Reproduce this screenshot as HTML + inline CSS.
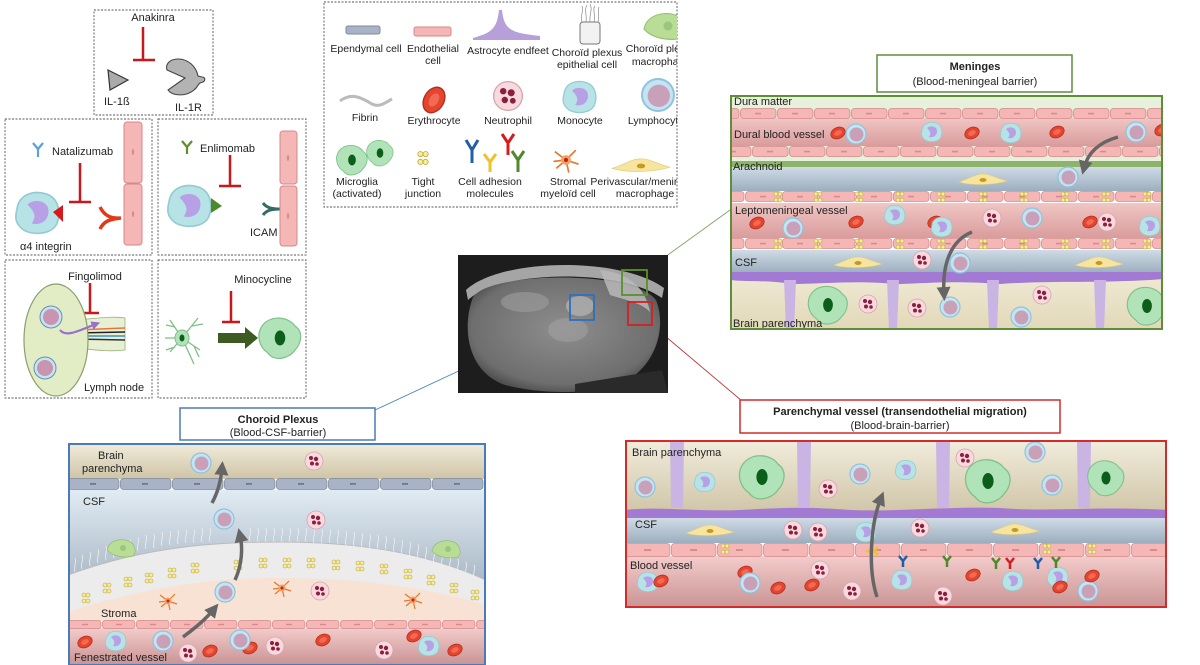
<!DOCTYPE html>
<html><head><meta charset="utf-8"><style>
html,body{margin:0;padding:0;background:#fff;}
svg{display:block;}
text{font-family:"Liberation Sans",sans-serif;font-size:11px;fill:#222;}
.c{text-anchor:middle;}
.b{font-weight:bold;}
.lg text{font-size:10.5px;}
</style></head><body>
<svg width="1200" height="665" viewBox="0 0 1200 665" xmlns="http://www.w3.org/2000/svg">
<defs>
<g id="ec"><rect x="0.5" y="0.5" width="35.5" height="10" rx="3" fill="#f4b7b5" stroke="#d58a8a" stroke-width="0.8"/><rect x="15" y="4.8" width="6" height="1.6" fill="#d98b8b"/></g>
<pattern id="endoA" width="37" height="11" patternUnits="userSpaceOnUse" x="0" y="108"><use href="#ec"/></pattern>
<pattern id="endoB" width="37" height="11" patternUnits="userSpaceOnUse" x="12" y="146"><use href="#ec"/></pattern>
<pattern id="endoC" width="37" height="12" patternUnits="userSpaceOnUse" x="5" y="191"><use href="#ec"/></pattern>
<pattern id="endoD" width="37" height="12" patternUnits="userSpaceOnUse" x="5" y="238"><use href="#ec"/></pattern>
<pattern id="endoE" width="34" height="9" patternUnits="userSpaceOnUse" x="68" y="620"><rect x="0.5" y="0.5" width="32.5" height="8" rx="2.5" fill="#f4b7b5" stroke="#d58a8a" stroke-width="0.8"/><rect x="14" y="3.8" width="6" height="1.4" fill="#d98b8b"/></pattern>
<pattern id="endoL" width="46" height="14" patternUnits="userSpaceOnUse" x="625" y="543">
<rect x="0.5" y="0.5" width="44.5" height="13" rx="3" fill="#f4b7b5" stroke="#d58a8a" stroke-width="0.8"/>
<rect x="19" y="6" width="7" height="2" fill="#d98b8b"/>
</pattern>
<pattern id="epend" width="52" height="12" patternUnits="userSpaceOnUse" x="68" y="478">
<rect x="0.5" y="0.5" width="50.5" height="11" rx="3" fill="#a8b4c5" stroke="#7f8a9c" stroke-width="0.8"/>
<rect x="22" y="5" width="6" height="1.8" fill="#6e7a8c"/>
</pattern>
<linearGradient id="vessel" x1="0" y1="0" x2="0" y2="1"><stop offset="0" stop-color="#f0c6c4"/><stop offset="1" stop-color="#d99c9c"/></linearGradient>
<linearGradient id="vessel2" x1="0" y1="0" x2="0" y2="1"><stop offset="0" stop-color="#f3cccb"/><stop offset="1" stop-color="#c99393"/></linearGradient>
<linearGradient id="csf" x1="0" y1="0" x2="0" y2="1"><stop offset="0" stop-color="#cfdbe6"/><stop offset="1" stop-color="#9caebe"/></linearGradient>
<linearGradient id="csf2" x1="0" y1="0" x2="0" y2="1"><stop offset="0" stop-color="#e1ebf3"/><stop offset="1" stop-color="#93a4b4"/></linearGradient>
<linearGradient id="par" x1="0" y1="0" x2="0" y2="1"><stop offset="0" stop-color="#f1ecdc"/><stop offset="1" stop-color="#cfc4a6"/></linearGradient>
<linearGradient id="par2" x1="0" y1="0" x2="0" y2="1"><stop offset="0" stop-color="#efe9d3"/><stop offset="1" stop-color="#e2d8b8"/></linearGradient>
<radialGradient id="brain" cx="0.5" cy="0.45" r="0.6"><stop offset="0" stop-color="#8e8e8e"/><stop offset="0.8" stop-color="#6e6e6e"/><stop offset="1" stop-color="#454545"/></radialGradient>
<marker id="ah" markerWidth="4" markerHeight="4" refX="2" refY="2" orient="auto"><path d="M0,0 L4,2 L0,4 z" fill="#666"/></marker>
<marker id="ahp" markerWidth="4" markerHeight="4" refX="2" refY="2" orient="auto"><path d="M0,0 L4,2 L0,4 z" fill="#9b6fd0"/></marker>
<g id="rbc"><ellipse rx="7.5" ry="5.5" fill="#e5452e" stroke="#b3301f" stroke-width="0.8" transform="rotate(-25)"/><ellipse rx="4" ry="2.5" fill="#f26a53" transform="rotate(-25)"/></g>
<g id="lym"><circle r="10" fill="#c4e4f3" stroke="#8fc2dd" stroke-width="1.2"/><circle cx="0.5" cy="0.5" r="7" fill="#c8a1b9"/></g>
<g id="neu"><circle r="9" fill="#f8d9de" stroke="#d6a3ad" stroke-width="0.8"/><circle cx="-3" cy="-3" r="2" fill="#8a1f3f"/><circle cx="2" cy="-2" r="2.2" fill="#8a1f3f"/><circle cx="-2" cy="2.5" r="2" fill="#8a1f3f"/><circle cx="3" cy="3" r="1.8" fill="#8a1f3f"/></g>
<g id="mon"><path d="M-10,-2 C-9,-9 -2,-11 4,-9 C10,-7 11,0 9,5 C7,10 -2,11 -7,8 C-11,5 -11,2 -10,-2z" fill="#b7e3e7" stroke="#93cbd3" stroke-width="0.8"/><path d="M-5,-4 C-2,-7 5,-6 5,-1 C5,4 1,6 -3,5 C-1,2 -1,0 -5,-4z" fill="#b7a0e6"/></g>
<g id="mac"><path d="M-24,2 C-12,-2 -8,-6 0,-6 C8,-6 12,-2 24,1 C12,5 -12,6 -24,2z" fill="#f7e59f" stroke="#e3cd7a" stroke-width="0.6"/><ellipse rx="3.5" ry="2" fill="#c69a1f"/></g>
<g id="mic"><path d="M-12,-8 C-6,-16 6,-14 10,-8 C16,-4 14,4 10,8 C6,14 -4,16 -8,10 C-14,6 -16,-2 -12,-8z" fill="#b1e3b9" stroke="#7fbf89" stroke-width="0.8"/><ellipse rx="3.5" ry="5" fill="#0b5f1a"/></g>
<g id="tj"><circle cx="-2" cy="-3" r="2" fill="#f6ec9a" stroke="#bfa73a" stroke-width="0.6"/><circle cx="2" cy="-3" r="2" fill="#f6ec9a" stroke="#bfa73a" stroke-width="0.6"/><circle cx="-2" cy="3" r="2" fill="#f6ec9a" stroke="#bfa73a" stroke-width="0.6"/><circle cx="2" cy="3" r="2" fill="#f6ec9a" stroke="#bfa73a" stroke-width="0.6"/></g>
<g id="str"><g stroke="#e8772a" stroke-width="1.2" fill="none"><path d="M0,0 L-8,-6 M0,0 L7,-7 M0,0 L9,3 M0,0 L-7,6 M0,0 L2,9 M0,0 L-9,1"/></g><circle r="3.5" fill="#f3a060"/><circle r="1.5" fill="#c02020"/></g>
<g id="cpm"><path d="M-14,2 C-12,-8 0,-10 8,-7 C14,-4 16,4 12,8 C4,10 -8,9 -14,2z" fill="#b9dc96" stroke="#93bf6f" stroke-width="0.7"/><circle cx="2" cy="0" r="3" fill="#9cc67b"/></g>
</defs>

<!-- ===== Top-left drug boxes ===== -->
<g fill="none" stroke="#555" stroke-width="0.9" stroke-dasharray="2,1.5">
<rect x="94" y="10" width="119" height="105"/>
<rect x="5" y="119" width="147" height="136"/>
<rect x="158" y="119" width="148" height="136"/>
<rect x="5" y="260" width="147" height="138"/>
<rect x="158" y="260" width="148" height="138"/>
</g>
<text x="153" y="21" class="c">Anakinra</text>
<g stroke="#c8181c" stroke-width="2.5"><line x1="143" y1="27" x2="143" y2="60"/><line x1="133" y1="60" x2="155" y2="60"/></g>
<path d="M108,70 L128,80 L110,90 z" fill="#aaa" stroke="#333" stroke-width="1.2"/>
<text x="104" y="105">IL-1ß</text>
<path d="M185,78 L168,90 C172,96 186,97 194,90 C198,87 198,84 200,83 L203,82 C206,80 205,77 202,77 L198,76 C196,66 188,59 178,59 C170,59 165,64 167,70 z" fill="#b3b3b3" stroke="#444" stroke-width="1.1"/>
<text x="175" y="111">IL-1R</text>

<g stroke="#5aa0db" stroke-width="2.2" fill="none"><path d="M33,143 L38,149 L43,143 M38,149 L38,157"/></g>
<text x="52" y="155">Natalizumab</text>
<g stroke="#c8181c" stroke-width="2.5"><line x1="80" y1="163" x2="80" y2="202"/><line x1="69" y1="202" x2="91" y2="202"/></g>
<g transform="translate(38,213) scale(2.1)"><use href="#mon"/></g>
<path d="M53,212 L63,205 L63,222 z" fill="#d7191c"/>
<path d="M100,207 C104,215 110,219 121,218 M100,229 C104,221 110,219 121,218" stroke="#e23a16" stroke-width="3.5" fill="none"/>
<rect x="124" y="122" width="18" height="61" rx="3" fill="#f4b7b5" stroke="#d58a8a"/><ellipse cx="133" cy="152" rx="1.2" ry="3" fill="#d98b8b"/>
<rect x="124" y="184" width="18" height="61" rx="3" fill="#f4b7b5" stroke="#d58a8a"/><ellipse cx="133" cy="214" rx="1.2" ry="3" fill="#d98b8b"/>
<text x="20" y="250">α4 integrin</text>

<g stroke="#5f8e2f" stroke-width="2.2" fill="none"><path d="M182,141 L187,147 L192,141 M187,147 L187,154"/></g>
<text x="200" y="152">Enlimomab</text>
<g stroke="#c8181c" stroke-width="2.5"><line x1="230" y1="155" x2="230" y2="186"/><line x1="219" y1="186" x2="241" y2="186"/></g>
<g transform="translate(190,206) scale(2.1)"><use href="#mon"/></g>
<path d="M211,198 L222,206 L211,213 z" fill="#4e8a2a"/>
<path d="M263,203 C266,207 270,209 280,209 M263,215 C266,211 270,209 280,209" stroke="#356b63" stroke-width="3" fill="none"/>
<rect x="280" y="131" width="17" height="53" rx="3" fill="#f4b7b5" stroke="#d58a8a"/><ellipse cx="288" cy="158" rx="1.2" ry="3" fill="#d98b8b"/>
<rect x="280" y="186" width="17" height="60" rx="3" fill="#f4b7b5" stroke="#d58a8a"/><ellipse cx="288" cy="216" rx="1.2" ry="3" fill="#d98b8b"/>
<text x="250" y="236">ICAM</text>

<text x="95" y="280" class="c">Fingolimod</text>
<g stroke="#c8181c" stroke-width="2.5"><line x1="90" y1="283" x2="90" y2="313"/><line x1="81" y1="313" x2="99" y2="313"/></g>
<path d="M76,320 C100,318 115,316 125,318 L125,350 C110,352 95,350 76,348 z" fill="#e7f0d2" stroke="#9cb07a" stroke-width="0.8"/>
<g stroke-width="1.5" fill="none"><path d="M75,330 L125,328" stroke="#e07a3a"/><path d="M75,333 L125,332" stroke="#222"/><path d="M75,336 L125,336" stroke="#3a8fd0"/><path d="M75,339 L125,340" stroke="#333"/></g>
<ellipse cx="56" cy="340" rx="32" ry="56" fill="#e2edc6" stroke="#8d9d6b" stroke-width="1.2"/>
<circle cx="51" cy="317" r="11" fill="#c4e4f3" stroke="#6b8fb0"/><circle cx="51" cy="317" r="8" fill="#c894b0"/>
<circle cx="45" cy="368" r="11" fill="#c4e4f3" stroke="#6b8fb0"/><circle cx="45" cy="368" r="8" fill="#c894b0"/>
<path d="M60,330 C66,338 80,330 96,324" stroke="#9b6fd0" stroke-width="2.2" fill="none" marker-end="url(#ahp)"/>
<text x="84" y="391">Lymph node</text>

<text x="263" y="283" class="c">Minocycline</text>
<g stroke="#c8181c" stroke-width="2.5"><line x1="231" y1="291" x2="231" y2="322"/><line x1="222" y1="322" x2="240" y2="322"/></g>
<g stroke="#7fbf89" stroke-width="1.3" fill="none"><path d="M182,338 L170,320 M175,327 L166,325 M182,338 L198,318 M192,326 L203,324 M182,338 L200,350 M194,346 L199,357 M182,338 L170,352 M175,347 L166,350 M182,338 L194,364 M182,338 L165,338"/></g>
<ellipse cx="182" cy="338" rx="7" ry="8" fill="#b1e3b9" stroke="#7fbf89"/><ellipse cx="182" cy="338" rx="2.5" ry="3.5" fill="#0b5f1a"/>
<path d="M218,333 L245,333 L245,327 L258,338 L245,349 L245,343 L218,343 z" fill="#3d5a22"/>
<g transform="translate(280,338) scale(1.5)"><use href="#mic"/></g>

<!-- ===== Legend ===== -->
<rect x="324" y="2" width="353" height="205" fill="none" stroke="#555" stroke-width="0.9" stroke-dasharray="2,1.5"/>
<clipPath id="lc"><rect x="324" y="2" width="353" height="205"/></clipPath>
<g clip-path="url(#lc)" class="lg">
<rect x="346" y="26" width="34" height="8" rx="2" fill="#a8b4c5" stroke="#7f8a9c"/>
<text x="366" y="52" class="c">Ependymal cell</text>
<rect x="414" y="27" width="37" height="9" rx="2" fill="#f4b7b5" stroke="#d58a8a"/>
<text x="433" y="52" class="c">Endothelial</text><text x="433" y="64" class="c">cell</text>
<path d="M473,38 C490,33 497,30 499,10 L502,10 C504,30 511,33 540,36 L540,40 L473,40 z" fill="#b79fd9"/>
<text x="508" y="54" class="c">Astrocyte endfeet</text>
<rect x="580" y="22" width="20" height="22" rx="3" fill="#f2f2f2" stroke="#777"/>
<g stroke="#888" stroke-width="0.7" fill="none"><path d="M582,22 C580,14 584,12 582,6 M586,22 C587,14 584,10 587,5 M590,22 C589,14 593,10 590,4 M594,22 C596,14 592,10 595,6 M598,22 C600,16 597,12 599,7"/></g>
<text x="587" y="56" class="c">Choroïd plexus</text><text x="587" y="68" class="c">epithelial cell</text>
<g transform="translate(665,26) scale(1.5)"><use href="#cpm"/></g>
<text x="661" y="52" class="c">Choroïd plexus</text><text x="661" y="65" class="c">macrophage</text>
<path d="M340,101 C352,92 362,98 372,104 C380,108 386,102 392,99" stroke="#bbb" stroke-width="3" fill="none"/>
<text x="365" y="121" class="c">Fibrin</text>
<g transform="translate(434,100) scale(1.8) rotate(-35)"><use href="#rbc"/></g>
<text x="434" y="124" class="c">Erythrocyte</text>
<g transform="translate(508,96) scale(1.6)"><use href="#neu"/></g>
<text x="508" y="124" class="c">Neutrophil</text>
<g transform="translate(580,97) scale(1.6)"><use href="#mon"/></g>
<text x="580" y="124" class="c">Monocyte</text>
<g transform="translate(658,95) scale(1.6)"><use href="#lym"/></g>
<text x="656" y="124" class="c">Lymphocyte</text>
<g transform="translate(352,160) scale(1.1)"><use href="#mic"/></g>
<g transform="translate(380,153) scale(0.95)"><use href="#mic"/></g>
<text x="357" y="185" class="c">Microglia</text><text x="357" y="197" class="c">(activated)</text>
<g transform="translate(423,158) scale(1.3)"><use href="#tj"/></g>
<text x="423" y="185" class="c">Tight</text><text x="423" y="197" class="c">junction</text>
<g stroke-width="3" fill="none">
<path d="M466,140 L472,150 L478,140 M472,150 L472,163" stroke="#1f5fa8"/>
<path d="M484,154 L490,162 L496,154 M490,162 L490,172" stroke="#f0c12a"/>
<path d="M502,134 L508,143 L514,134 M508,143 L508,155" stroke="#d11f1f"/>
<path d="M512,151 L518,160 L524,151 M518,160 L518,172" stroke="#4e8a2a"/>
</g>
<text x="490" y="185" class="c">Cell adhesion</text><text x="490" y="197" class="c">molecules</text>
<g transform="translate(566,160) scale(1.4)"><use href="#str"/></g>
<text x="568" y="185" class="c">Stromal</text><text x="568" y="197" class="c">myeloïd cell</text>
<g transform="translate(641,166) scale(1.2)"><use href="#mac"/></g>
<text x="645" y="185" class="c">Perivascular/meningeal</text><text x="645" y="197" class="c">macrophage</text>
</g>

<!-- ===== MRI ===== -->
<line x1="647" y1="270" x2="730" y2="210" stroke="#7ea36a" stroke-width="0.9"/>
<line x1="566" y1="321" x2="375" y2="410" stroke="#4a86c0" stroke-width="0.9"/>
<line x1="652" y1="325" x2="742" y2="401" stroke="#c03a3a" stroke-width="0.9"/>
<rect x="458" y="255" width="210" height="138" fill="#1d1d1d"/>
<path d="M466,290 C500,258 620,256 664,288 L662,298 C620,268 500,270 468,300 z" fill="#a5a5a5"/>
<path d="M472,300 C478,272 632,268 656,300 C668,330 654,374 612,387 C580,394 540,394 505,385 C468,372 462,330 472,300z" fill="url(#brain)"/>
<path d="M600,270 C625,272 645,285 650,312 C640,302 625,300 610,295z" fill="#b8b8b8" opacity="0.85"/>
<ellipse cx="580" cy="306" rx="14" ry="10" fill="#b0b0b0" opacity="0.8"/>
<ellipse cx="525" cy="302" rx="24" ry="10" fill="#999" opacity="0.7"/>
<ellipse cx="568" cy="330" rx="20" ry="12" fill="#a0a0a0" opacity="0.6"/>
<path d="M575,384 L662,370 L668,393 L575,393z" fill="#2a2a2a"/>
<rect x="622" y="270" width="25" height="25" fill="none" stroke="#5a8f2f" stroke-width="1.8"/>
<rect x="570" y="295" width="24" height="25" fill="none" stroke="#2f6fc0" stroke-width="1.8"/>
<rect x="628" y="302" width="24" height="23" fill="none" stroke="#d52020" stroke-width="1.8"/>

<!-- ===== Meninges ===== -->
<rect x="877" y="55" width="195" height="37" fill="#fff" stroke="#5f8e3a" stroke-width="1.5"/>
<text x="975" y="70" class="c b">Meninges</text>
<text x="975" y="85" class="c">(Blood-meningeal barrier)</text>
<clipPath id="mc"><rect x="731" y="96" width="431" height="233"/></clipPath>
<g clip-path="url(#mc)">
<rect x="730" y="95" width="433" height="70" fill="#e6f0da"/>
<rect x="730" y="118" width="433" height="28" fill="url(#vessel)"/>
<rect x="730" y="108" width="433" height="11" fill="url(#endoA)"/>
<rect x="730" y="146" width="433" height="11" fill="url(#endoB)"/>
<rect x="730" y="161" width="433" height="6" fill="#8db46a"/>
<rect x="730" y="167" width="433" height="24" fill="url(#csf)"/>
<rect x="730" y="203" width="433" height="35" fill="url(#vessel)"/>
<rect x="730" y="191" width="433" height="12" fill="url(#endoC)"/>
<rect x="730" y="238" width="433" height="12" fill="url(#endoD)"/>
<g><use href="#tj" x="778" y="197"/><use href="#tj" x="818" y="197"/><use href="#tj" x="859" y="197"/><use href="#tj" x="900" y="197"/><use href="#tj" x="941" y="197"/><use href="#tj" x="983" y="197"/><use href="#tj" x="1024" y="197"/><use href="#tj" x="1065" y="197"/><use href="#tj" x="1106" y="197"/><use href="#tj" x="1147" y="197"/>
<use href="#tj" x="778" y="244"/><use href="#tj" x="818" y="244"/><use href="#tj" x="859" y="244"/><use href="#tj" x="900" y="244"/><use href="#tj" x="941" y="244"/><use href="#tj" x="983" y="244"/><use href="#tj" x="1024" y="244"/><use href="#tj" x="1065" y="244"/><use href="#tj" x="1106" y="244"/><use href="#tj" x="1147" y="244"/></g>
<rect x="730" y="250" width="433" height="23" fill="url(#csf)"/>
<rect x="730" y="277" width="433" height="53" fill="url(#par2)"/>
<path d="M730,272 L1163,272 L1163,279 C1100,284 1060,280 1000,284 C950,280 920,284 893,284 C860,280 820,284 790,284 C770,280 750,282 730,280z" fill="#a27ad4"/>
<g fill="#c9b4e4"><path d="M784,280 L796,280 L794,330 L786,330z"/><path d="M887,280 L899,280 L897,330 L889,330z"/><path d="M987,280 L999,280 L997,330 L989,330z"/><path d="M1094,280 L1106,280 L1104,330 L1096,330z"/></g>
<use href="#rbc" x="838" y="133"/><use href="#lym" x="856" y="134"/><use href="#mon" x="932" y="132"/><use href="#rbc" x="972" y="133"/><use href="#mon" x="1011" y="133"/><use href="#rbc" x="1057" y="132"/><use href="#lym" x="1136" y="132"/><use href="#rbc" x="1162" y="130"/>
<use href="#mac" x="983" y="180"/><use href="#lym" x="1068" y="177"/>
<use href="#rbc" x="757" y="223"/><use href="#lym" x="793" y="228"/><use href="#mon" x="895" y="215"/><use href="#rbc" x="856" y="222"/><use href="#rbc" x="935" y="222"/><use href="#mon" x="942" y="227"/><use href="#neu" x="992" y="218"/><use href="#lym" x="1032" y="218"/><use href="#rbc" x="1090" y="222"/><use href="#neu" x="1107" y="222"/><use href="#mon" x="1150" y="226"/>
<use href="#mac" x="858" y="263"/><use href="#neu" x="922" y="260"/><use href="#lym" x="960" y="263"/><use href="#mac" x="1099" y="263"/>
<g transform="translate(828,305) scale(1.4)"><use href="#mic"/></g><use href="#neu" x="868" y="304"/><use href="#neu" x="917" y="308"/><use href="#lym" x="950" y="307"/><use href="#neu" x="1042" y="295"/><use href="#lym" x="1021" y="317"/><g transform="translate(1147,306) scale(1.4)"><use href="#mic"/></g>
<path d="M1118,137 C1100,142 1088,152 1084,168" stroke="#666" stroke-width="3.5" fill="none" marker-end="url(#ah)"/>
<path d="M972,232 C952,240 942,262 944,294" stroke="#666" stroke-width="3.5" fill="none" marker-end="url(#ah)"/>
<text x="734" y="105">Dura matter</text>
<text x="734" y="138">Dural blood vessel</text>
<text x="733" y="170">Arachnoid</text>
<text x="735" y="214">Leptomeningeal vessel</text>
<text x="735" y="266">CSF</text>
<text x="733" y="327">Brain parenchyma</text>
</g>
<rect x="731" y="96" width="431" height="233" fill="none" stroke="#5f8e3a" stroke-width="2"/>

<!-- ===== Choroid Plexus ===== -->
<rect x="180" y="408" width="195" height="32" fill="#fff" stroke="#4a7ab8" stroke-width="1.5"/>
<text x="278" y="423" class="c b">Choroid Plexus</text>
<text x="278" y="436" class="c">(Blood-CSF-barrier)</text>
<clipPath id="cc"><rect x="69" y="444" width="416" height="221"/></clipPath>
<g clip-path="url(#cc)">
<rect x="68" y="443" width="418" height="36" fill="url(#par)"/>
<rect x="68" y="478" width="418" height="12" fill="url(#epend)"/>
<rect x="68" y="490" width="418" height="130" fill="url(#csf2)"/>
<path d="M68,575 C150,545 220,542 280,542 C350,542 420,550 486,580 L486,620 L68,620z" fill="#ececec" stroke="#bbb"/>
<g stroke="#eee" stroke-width="0.8" fill="none">
<path d="M75,572 c-2,-6 2,-8 0,-14 M82,569 c-2,-6 2,-8 0,-14 M90,566 c-2,-6 2,-8 0,-14 M98,563 c-2,-6 2,-8 0,-14 M106,560 c-2,-6 2,-8 0,-14 M114,558 c-2,-6 2,-8 0,-14 M122,555 c-2,-6 2,-8 0,-14 M130,553 c-2,-6 2,-8 0,-14 M138,551 c-2,-6 2,-8 0,-14 M146,549 c-2,-6 2,-8 0,-14 M154,548 c-2,-6 2,-8 0,-14 M162,546 c-2,-6 2,-8 0,-14 M170,545 c-2,-6 2,-8 0,-14 M178,544 c-2,-6 2,-8 0,-14 M186,543 c-2,-6 2,-8 0,-14 M194,543 c-2,-6 2,-8 0,-14 M202,542 c-2,-6 2,-8 0,-14 M210,542 c-2,-6 2,-8 0,-14 M250,542 c-2,-6 2,-8 0,-14 M258,542 c-2,-6 2,-8 0,-14 M266,542 c-2,-6 2,-8 0,-14 M274,542 c-2,-6 2,-8 0,-14 M282,542 c-2,-6 2,-8 0,-14 M290,542 c-2,-6 2,-8 0,-14 M298,542 c-2,-6 2,-8 0,-14 M306,542 c-2,-6 2,-8 0,-14 M314,543 c-2,-6 2,-8 0,-14 M322,543 c-2,-6 2,-8 0,-14 M330,543 c-2,-6 2,-8 0,-14 M338,544 c-2,-6 2,-8 0,-14 M346,545 c-2,-6 2,-8 0,-14 M354,546 c-2,-6 2,-8 0,-14 M362,547 c-2,-6 2,-8 0,-14 M370,548 c-2,-6 2,-8 0,-14 M378,549 c-2,-6 2,-8 0,-14 M386,550 c-2,-6 2,-8 0,-14 M394,552 c-2,-6 2,-8 0,-14 M402,554 c-2,-6 2,-8 0,-14 M410,556 c-2,-6 2,-8 0,-14 M418,558 c-2,-6 2,-8 0,-14 M426,561 c-2,-6 2,-8 0,-14 M434,564 c-2,-6 2,-8 0,-14 M442,567 c-2,-6 2,-8 0,-14 M450,570 c-2,-6 2,-8 0,-14 M458,573 c-2,-6 2,-8 0,-14 M466,576 c-2,-6 2,-8 0,-14 M474,579 c-2,-6 2,-8 0,-14"/>
</g>
<path d="M68,612 C150,585 220,578 280,578 C350,578 420,585 486,605 L486,621 L68,621z" fill="#f8e2d4"/>
<g><use href="#tj" x="86" y="598"/><use href="#tj" x="107" y="588"/><use href="#tj" x="128" y="582"/><use href="#tj" x="149" y="578"/><use href="#tj" x="172" y="573"/><use href="#tj" x="195" y="568"/><use href="#tj" x="238" y="565"/><use href="#tj" x="263" y="563"/><use href="#tj" x="287" y="563"/><use href="#tj" x="311" y="563"/><use href="#tj" x="336" y="565"/><use href="#tj" x="360" y="566"/><use href="#tj" x="384" y="569"/><use href="#tj" x="408" y="574"/><use href="#tj" x="431" y="580"/><use href="#tj" x="454" y="588"/><use href="#tj" x="475" y="595"/></g>
<rect x="68" y="628" width="418" height="37" fill="url(#vessel2)"/>
<rect x="68" y="620" width="418" height="9" fill="url(#endoE)"/>
<use href="#lym" x="201" y="463"/><use href="#neu" x="314" y="461"/>
<use href="#lym" x="224" y="519"/><use href="#neu" x="316" y="520"/>
<g transform="translate(121,548)"><use href="#cpm"/></g><g transform="translate(446,549)"><use href="#cpm"/></g>
<use href="#lym" x="225" y="592"/><use href="#str" x="168" y="601"/><use href="#str" x="282" y="588"/><use href="#str" x="413" y="600"/><use href="#neu" x="320" y="591"/>
<use href="#rbc" x="85" y="642"/><use href="#mon" x="116" y="641"/><use href="#lym" x="163" y="641"/><use href="#neu" x="188" y="653"/><use href="#rbc" x="210" y="651"/><use href="#rbc" x="250" y="648"/><use href="#lym" x="240" y="640"/><use href="#neu" x="275" y="646"/><use href="#rbc" x="323" y="640"/><use href="#neu" x="384" y="650"/><use href="#rbc" x="414" y="636"/><use href="#mon" x="429" y="646"/><use href="#rbc" x="455" y="650"/>
<path d="M183,637 C195,628 205,620 214,609" stroke="#666" stroke-width="3.5" fill="none" marker-end="url(#ah)"/>
<path d="M235,580 C242,565 243,548 240,535" stroke="#666" stroke-width="3.5" fill="none" marker-end="url(#ah)"/>
<path d="M212,503 C218,492 221,480 222,468" stroke="#666" stroke-width="3.5" fill="none" marker-end="url(#ah)"/>
<text x="98" y="459">Brain</text>
<text x="82" y="472">parenchyma</text>
<text x="83" y="505">CSF</text>
<text x="101" y="617">Stroma</text>
<text x="74" y="661">Fenestrated vessel</text>
</g>
<rect x="69" y="444" width="416" height="221" fill="none" stroke="#4a7ab8" stroke-width="2"/>

<!-- ===== Parenchymal vessel ===== -->
<rect x="740" y="400" width="320" height="33" fill="#fff" stroke="#d42a2a" stroke-width="1.5"/>
<text x="900" y="415" class="c b">Parenchymal vessel (transendothelial migration)</text>
<text x="900" y="429" class="c">(Blood-brain-barrier)</text>
<clipPath id="pc"><rect x="626" y="441" width="540" height="166"/></clipPath>
<g clip-path="url(#pc)">
<rect x="625" y="440" width="543" height="75" fill="url(#par)"/>
<path d="M625,510 C660,506 700,512 740,510 C780,508 800,506 850,510 C900,512 950,506 1000,508 C1050,512 1100,506 1168,510 L1168,519 L625,519z" fill="#a27ad4"/>
<g fill="#c9b4e4"><path d="M670,440 L684,440 L683,508 L671,508z"/><path d="M797,440 L811,440 L810,508 L798,508z"/><path d="M936,440 L950,440 L949,508 L937,508z"/><path d="M1077,440 L1091,440 L1090,508 L1078,508z"/></g>
<rect x="625" y="518" width="543" height="25" fill="url(#csf)"/>
<rect x="625" y="556" width="543" height="52" fill="url(#vessel2)"/>
<rect x="625" y="543" width="543" height="14" fill="url(#endoL)"/>
<use href="#tj" x="725" y="549"/><use href="#tj" x="1047" y="549"/><use href="#tj" x="1092" y="549"/>
<use href="#lym" x="645" y="487"/><use href="#mon" x="705" y="482"/><g transform="translate(762,477) scale(1.6)"><use href="#mic"/></g><use href="#neu" x="828" y="489"/><use href="#lym" x="860" y="474"/><use href="#mon" x="906" y="470"/><use href="#neu" x="965" y="458"/><g transform="translate(988,481) scale(1.6)"><use href="#mic"/></g><use href="#lym" x="1035" y="452"/><use href="#lym" x="1052" y="485"/><g transform="translate(1106,478) scale(1.3)"><use href="#mic"/></g>
<use href="#mac" x="710" y="531"/><use href="#neu" x="793" y="530"/><use href="#neu" x="818" y="532"/><use href="#mon" x="866" y="532"/><use href="#neu" x="920" y="528"/><use href="#mac" x="1015" y="530"/>
<use href="#mon" x="648" y="582"/><use href="#rbc" x="661" y="581"/><use href="#rbc" x="745" y="572"/><use href="#lym" x="750" y="583"/><use href="#rbc" x="778" y="588"/><use href="#neu" x="820" y="570"/><use href="#rbc" x="812" y="585"/><use href="#neu" x="852" y="591"/><use href="#mon" x="902" y="580"/><use href="#neu" x="943" y="596"/><use href="#rbc" x="973" y="575"/><use href="#mon" x="1013" y="581"/><use href="#mon" x="1058" y="577"/><use href="#rbc" x="1060" y="587"/><use href="#lym" x="1088" y="591"/><use href="#rbc" x="1092" y="576"/>
<g stroke-width="2.5" fill="none">
<path d="M899,556 L903,561 L907,556 M903,561 L903,567" stroke="#1f5fa8"/>
<path d="M943,556 L947,561 L951,556 M947,561 L947,567" stroke="#4e8a2a"/>
<path d="M992,558 L996,563 L1000,558 M996,563 L996,569" stroke="#4e8a2a"/>
<path d="M1006,558 L1010,563 L1014,558 M1010,563 L1010,569" stroke="#d11f1f"/>
<path d="M1034,558 L1038,563 L1042,558 M1038,563 L1038,569" stroke="#1f5fa8"/>
<path d="M1052,557 L1056,562 L1060,557 M1056,562 L1056,568" stroke="#4e8a2a"/>
<path d="M866,551 L874,551 M874,551 L878,547 M874,551 L878,555" stroke="#f0c12a"/>
</g>
<path d="M877,597 C868,570 870,525 881,498" stroke="#666" stroke-width="3.5" fill="none" marker-end="url(#ah)"/>
<text x="632" y="456">Brain parenchyma</text>
<text x="635" y="528">CSF</text>
<text x="630" y="569">Blood vessel</text>
</g>
<rect x="626" y="441" width="540" height="166" fill="none" stroke="#d42a2a" stroke-width="2"/>
</svg>
</body></html>
